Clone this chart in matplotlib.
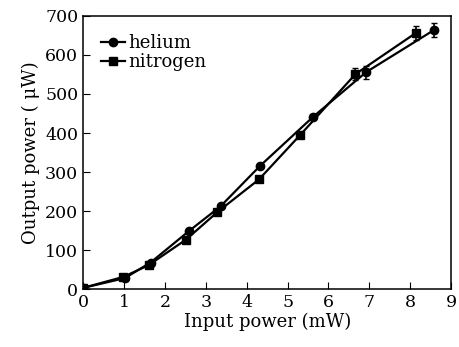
import matplotlib
matplotlib.use("Agg")
import matplotlib.pyplot as plt

# data
he_x = [0, 1.02, 1.65, 2.58, 3.36, 4.33, 5.63, 6.92, 8.58]
he_y = [3, 28, 68, 148, 212, 316, 442, 556, 664]
he_err = [0, 0, 0, 0, 0, 0, 0, 17, 17]

n2_x = [0, 0.98, 1.6, 2.52, 3.28, 4.3, 5.3, 6.66, 8.13]
n2_y = [3, 31, 61, 127, 197, 281, 394, 551, 656]
n2_err = [0, 0, 0, 0, 0, 0, 0, 15, 17]

x_ticks = list(range(0, 10))
y_ticks = list(range(0, 800, 100))

plt.rcParams["font.family"] = ["DejaVu Serif"]

fig = plt.figure(figsize=(4.59, 3.47), dpi=100)
ax = fig.add_axes([0.181, 0.167, 0.802, 0.787])

he = ax.errorbar(he_x, he_y, yerr=he_err, color="black", marker="o", markersize=6,
                 linewidth=1.6, capsize=2.5, elinewidth=1.2)
n2 = ax.errorbar(n2_x, n2_y, yerr=n2_err, color="black", marker="s", markersize=5.5,
                 linewidth=1.6, capsize=2.5, elinewidth=1.2)

ax.set_xlim(0, 9)
ax.set_ylim(0, 700)
ax.set_xticks(x_ticks)
ax.set_yticks(y_ticks)
ax.tick_params(direction="in", length=5, labelsize=12.5)
ax.set_xlabel("Input power (mW)", fontsize=13, labelpad=1)
ax.set_ylabel("Output power ( \u03bcW)", fontsize=13, labelpad=4)

for s in ax.spines.values():
    s.set_linewidth(1.1)

# legend shows only line + marker, no error bars
ax.legend([he[0], n2[0]], ["helium", "nitrogen"], loc="upper left", frameon=False,
          fontsize=13, handlelength=1.3, handletextpad=0.2, labelspacing=0.05,
          borderaxespad=0.6)

fig.savefig("out.png", dpi=100)
